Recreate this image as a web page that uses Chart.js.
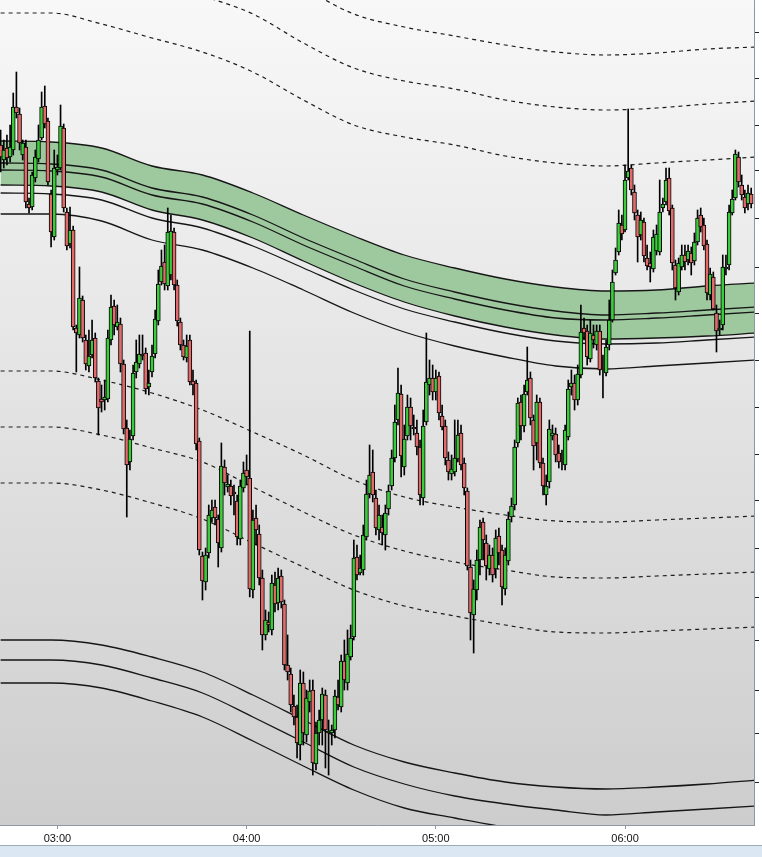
<!DOCTYPE html>
<html lang="en">
<head>
<meta charset="UTF-8">
<title>Candles with bands</title>
<style>
  html, body { margin: 0; padding: 0; background: #fff; }
  canvas { display: block; }
</style>
</head>
<body>
<canvas id="myChart" width="762" height="857"></canvas>
<script src="https://cdn.jsdelivr.net/npm/chart.js@4.4.0/dist/chart.umd.min.js"></script>
<script>
// one-minute candles, first one at 02:42 (minutes after midnight)
const firstMinute = 162;

const candleOpen = [855,840,852,843,850,893,886,845,853,796,
 793,822,841,862,894,879,806,763,830,832,
 872,788,756,770,672,665,700,660,634,645,
 662,619,601,600,601,660,694,673,676,636,
 572,538,564,628,636,646,647,613,628,646,
 679,718,738,714,725,768,715,678,655,642,
 660,619,617,559,444,418,447,482,493,481,
 452,533,513,514,507,499,461,512,530,522,
 410,482,466,422,365,378,370,415,397,424,
 396,335,326,294,283,255,317,265,298,310,
 236,267,280,305,267,267,270,303,293,339,
 317,343,363,443,427,430,463,506,528,502,
 470,473,465,491,514,542,580,606,533,564,
 593,573,567,553,502,578,615,622,608,624,
 584,574,540,526,528,541,567,537,509,433,
 385,410,440,478,457,431,445,431,464,450,
 411,439,483,495,557,598,574,608,622,580,
 557,598,537,505,518,564,566,547,540,535,
 563,613,617,600,625,672,669,641,665,655,
 669,632,627,655,680,727,748,775,770,822,
 832,808,785,765,778,742,737,731,749,748,
 792,798,822,792,735,708,733,745,740,747,
 739,758,785,775,756,705,723,687,670,675,
 731,735,787,802,843,815,803,796,806];

const candleHigh = [870,860,865,875,907,928,892,860,860,802,
 828,850,875,908,914,882,810,850,845,895,
 876,792,793,774,675,733,704,665,670,680,
 667,622,615,620,670,705,700,695,682,640,
 580,570,635,660,665,665,652,630,655,690,
 730,750,755,792,785,772,720,682,660,665,
 665,630,620,562,448,452,495,500,500,485,
 557,540,525,520,515,505,520,538,545,669,
 490,495,475,430,390,388,425,428,432,430,
 400,365,332,305,295,330,328,310,320,320,
 278,290,312,310,280,275,310,320,345,360,
 370,375,460,455,445,475,520,555,550,510,
 495,485,495,515,550,595,632,615,575,605,
 602,585,580,560,590,667,640,635,630,628,
 595,580,548,545,580,580,575,542,512,440,
 420,450,480,482,465,455,452,470,472,455,
 452,488,502,560,602,605,615,653,628,585,
 605,602,542,525,580,575,572,555,550,575,
 620,630,625,635,695,682,675,680,675,675,
 675,645,660,700,730,752,790,785,835,891,
 835,815,790,788,782,755,748,770,775,820,
 802,832,832,795,740,742,755,755,755,753,
 767,790,792,782,760,732,728,695,680,745,
 745,795,810,850,848,825,810,815,812];

const candleLow = [828,832,835,838,845,882,850,840,792,787,
 790,818,838,860,872,815,753,760,825,830,
 788,750,752,670,628,662,658,630,628,642,
 618,565,588,590,598,655,665,670,628,566,
 483,530,560,622,632,640,606,605,623,642,
 675,715,710,710,720,710,674,650,640,638,
 615,605,550,445,400,410,442,478,475,433,
 448,505,508,495,485,455,455,508,515,403,
 402,455,415,350,360,368,365,388,390,392,
 330,320,288,275,242,240,255,258,288,225,
 230,255,255,232,225,255,262,290,288,310,
 310,340,360,420,425,425,460,502,498,465,
 460,455,450,485,510,538,575,523,525,560,
 560,565,545,495,495,575,605,600,600,580,
 570,535,520,520,524,538,530,505,430,360,
 347,400,425,440,420,425,418,422,435,395,
 405,435,478,490,553,560,568,605,575,530,
 540,532,505,495,512,560,538,532,530,530,
 560,605,590,595,622,660,635,638,652,650,
 625,602,624,650,678,725,745,760,768,820,
 805,780,738,760,738,730,718,728,745,745,
 788,795,785,730,700,705,730,730,735,725,
 735,755,768,750,700,700,690,648,665,670,
 725,730,785,800,813,800,787,790,792];

const candleClose = [843,850,842,853,893,887,857,857,798,792,
 825,843,860,893,876,818,768,832,833,874,
 792,754,770,673,667,702,662,636,644,660,
 622,592,598,603,662,693,675,678,636,571,
 535,561,627,638,646,644,611,617,644,681,
 716,734,716,768,769,715,679,655,643,654,
 618,615,556,450,419,445,485,490,482,457,
 534,517,516,504,506,463,514,527,523,411,
 480,470,422,365,380,375,417,396,422,398,
 335,328,295,283,257,317,267,302,309,237,
 267,280,306,270,269,270,304,295,339,320,
 346,362,442,425,432,465,506,525,505,472,
 485,467,487,509,542,578,607,544,561,593,
 574,571,553,505,574,618,622,608,622,587,
 573,542,528,531,542,565,535,512,434,387,
 411,440,473,460,434,445,425,462,447,413,
 445,481,494,553,597,574,606,620,582,554,
 598,537,514,514,571,567,545,538,538,570,
 611,617,600,626,668,667,643,667,660,669,
 630,630,653,680,718,740,777,766,820,829,
 810,787,763,780,744,734,733,763,766,788,
 796,820,789,737,712,737,745,738,749,737,
 758,782,773,754,707,726,691,669,672,733,
 733,788,801,846,818,805,792,807,796];

// indicator lines, read every 16 minutes
const lineMinutes = [162,178,194,210,226,242,258,274,290,306,322,338,354,370,386,402];

const bandTop    = [859,858,852,834,825,807,785,764,745,732,721,713,709,710,714,717];
const bandBottom = [815,814,808,790,780,762,739,717,698,684,673,665,661,662,664,667];
const midUpper   = [837,836,830,812,803,785,762,741,721,708,697,689,685,687,690,693];
const midLower   = [830,829,823,805,796,778,755,734,714,701,690,682,680,682,685,688];
const underBand1 = [807,806,800,782,772,754,732,710,691,678,667,659,656,657,660,663];
const underBand2 = [786,786,779,760,750,732,710,687,668,654,643,634,631,634,637,640];

const upperDev1 = [987,987,976,962,948,928,900,875,863,855,844,837,834,837,840,843];
const upperDev2 = [1043,1043,1032,1018,1004,986,957,932,919,911,900,893,890,892,896,899];
const upperDev3 = [1097,1097,1086,1072,1058,1038,1012,986,973,964,955,948,945,947,951,953];

const lowerDev1 = [629,629,620,607,590,568,545,520,503,493,485,479,478,480,482,484];
const lowerDev2 = [573,573,565,552,538,513,488,465,449,438,430,423,422,424,426,428];
const lowerDev3 = [517,517,510,497,481,457,433,410,394,384,375,368,367,369,371,373];

const lowBand1 = [360,360,355,343,328,305,280,255,238,227,218,213,211,213,216,220];
const lowBand2 = [340,340,335,322,307,283,258,233,216,204,196,190,185,188,191,194];
const lowBand3 = [317,317,312,299,283,259,234,210,192,182,173,167,163,165,168,171];

const hourMinutes = [180, 240, 300, 360];
const hourLabels = ['03:00', '04:00', '05:00', '06:00'];
const priceTicks = [968,922,874,830,782,733,687,640,592,546,500,452,403,360,310,267,218];

const candleMinutes = candleClose.map((c, i) => firstMinute + i);
const pts = arr => lineMinutes.map((m, i) => ({ x: m, y: arr[i] }));

function line(arr, dashed, extra) {
  return Object.assign({
    type: 'line',
    data: pts(arr),
    borderColor: dashed ? '#1c1c1c' : '#161616',
    borderWidth: dashed ? 1.2 : 1.3,
    borderDash: dashed ? [4, 4] : [],
    pointRadius: 0,
    cubicInterpolationMode: 'monotone',
    fill: false,
    order: 2
  }, extra || {});
}

const bgPlugin = {
  id: 'bg',
  beforeDraw(chart) {
    const { ctx, chartArea: a } = chart;
    ctx.save();
    ctx.fillStyle = '#fff';
    ctx.fillRect(0, 0, chart.width, chart.height);
    const g = ctx.createLinearGradient(0, a.top, 0, a.bottom);
    g.addColorStop(0, '#f8f8f8');
    g.addColorStop(1, '#cdcdcd');
    ctx.fillStyle = g;
    ctx.fillRect(a.left, a.top, a.right - a.left, a.bottom - a.top);
    ctx.restore();
  },
  afterDraw(chart) {
    // status strip under the time axis
    const ctx = chart.ctx;
    ctx.save();
    ctx.fillStyle = '#dbe8f3';
    ctx.fillRect(0, 846, chart.width, chart.height - 846);
    ctx.strokeStyle = '#9eabb6';
    ctx.lineWidth = 1;
    ctx.beginPath();
    ctx.moveTo(0, 845.5); ctx.lineTo(chart.width, 845.5);
    ctx.stroke();
    ctx.restore();
  }
};

const ctx = document.getElementById('myChart');

new Chart(ctx, {
  type: 'bar',
  data: {
    datasets: [
      line(bandTop, false, { fill: '+1', backgroundColor: '#9ec89e', order: 3 }),
      line(bandBottom, false),
      line(midUpper, false),
      line(midLower, false),
      line(underBand1, false),
      line(underBand2, false),
      line(upperDev1, true),
      line(upperDev2, true),
      line(upperDev3, true),
      line(lowerDev1, true),
      line(lowerDev2, true),
      line(lowerDev3, true),
      line(lowBand1, false),
      line(lowBand2, false),
      line(lowBand3, false),
      {
        // wicks
        type: 'bar',
        data: candleMinutes.map((m, i) => ({ x: m, y: [candleLow[i], candleHigh[i]] })),
        backgroundColor: '#000',
        borderWidth: 0,
        barThickness: 1,
        grouped: false,
        order: 1
      },
      {
        // bodies
        type: 'bar',
        data: candleMinutes.map((m, i) => ({ x: m, y: [candleOpen[i], candleClose[i]] })),
        backgroundColor: candleClose.map((c, i) => c >= candleOpen[i] ? '#3bcb3b' : '#e26a6a'),
        borderColor: '#000',
        borderWidth: 1,
        borderSkipped: false,
        barThickness: 4,
        minBarLength: 2,
        grouped: false,
        order: 0
      }
    ]
  },
  options: {
    responsive: false,
    animation: false,
    devicePixelRatio: 1,
    layout: { padding: 0 },
    plugins: {
      legend: { display: false },
      tooltip: { enabled: false }
    },
    scales: {
      x: {
        type: 'linear',
        min: 161.8,
        max: 400.9,
        offset: false,
        grid: { drawOnChartArea: false, offset: false, tickLength: 4, color: '#8c99a4' },
        border: { color: '#8c99a4' },
        ticks: {
          color: '#111',
          font: { family: 'Liberation Sans', size: 11 },
          padding: 3,
          maxRotation: 0,
          autoSkip: false,
          callback: v => hourLabels[hourMinutes.indexOf(v)]
        },
        afterBuildTicks: s => { s.ticks = hourMinutes.map(v => ({ value: v })); },
        afterFit: s => { s.height = 32; }
      },
      y: {
        type: 'linear',
        position: 'right',
        min: 175,
        max: 1000,
        grid: { drawOnChartArea: false, tickLength: 5, color: '#222' },
        border: { color: '#8c99a4' },
        ticks: { display: false },
        afterBuildTicks: s => { s.ticks = priceTicks.map(v => ({ value: v })); },
        afterFit: s => { s.width = 8; }
      }
    }
  },
  plugins: [bgPlugin]
});
</script>
</body>
</html>
